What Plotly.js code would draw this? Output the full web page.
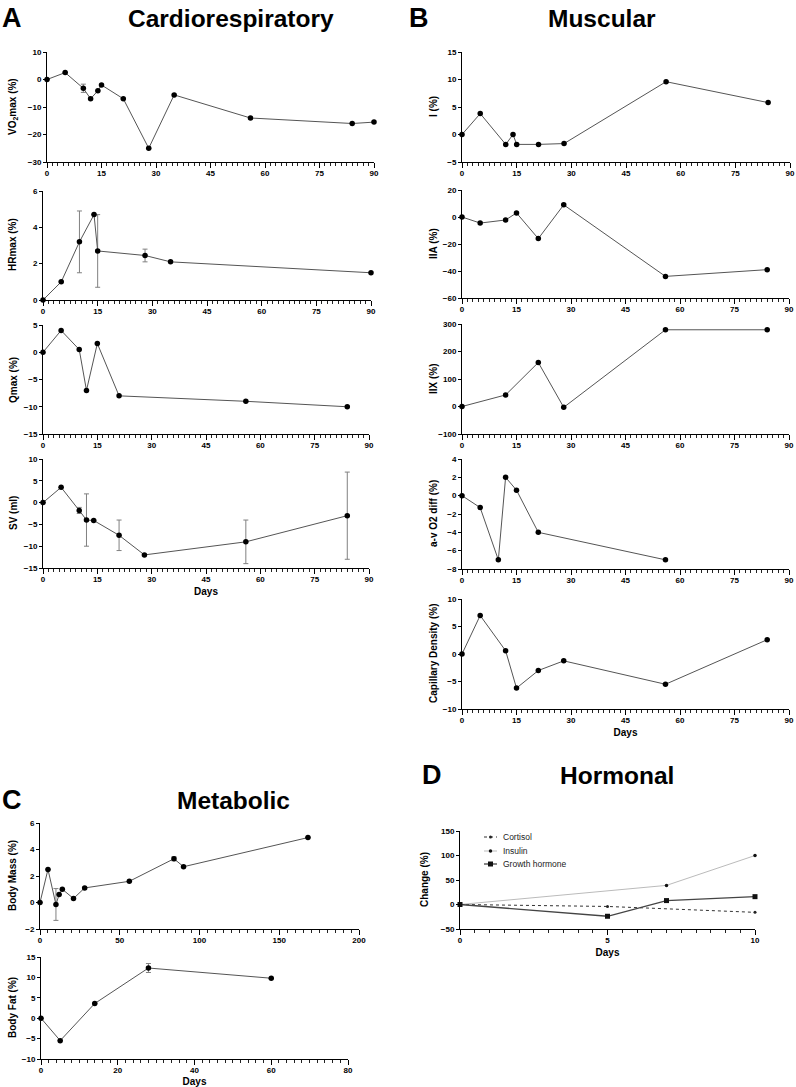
<!DOCTYPE html>
<html><head><meta charset="utf-8">
<script src="https://cdn.plot.ly/plotly-3.0.1.min.js"></script>
<style>html,body{margin:0;padding:0;background:#fff}#chart{width:796px;height:1087px}</style>
</head><body><div id="chart"></div>
<script>
// ---- data ----
const vo2Days = [0, 5, 10, 12, 14, 15, 21, 28, 35, 56, 84, 90];
const vo2Vals = [0, 2.5, -3.2, -7, -4.1, -2, -7, -25, -5.6, -14, -16, -15.5];
const vo2Err  = [null, null, 1.5, null, null, null, null, null, null, null, null, null];

const hrDays = [0, 5, 10, 14, 15, 28, 35, 90];
const hrVals = [0, 1.0, 3.2, 4.7, 2.7, 2.45, 2.1, 1.5];
const hrErr  = [null, null, 1.7, null, 2.0, 0.35, null, null];

const qDays = [0, 5, 10, 12, 15, 21, 56, 84];
const qVals = [0, 4.0, 0.5, -7.0, 1.6, -8.0, -9.0, -10.0];

const svDays = [0, 5, 10, 12, 14, 21, 28, 56, 84];
const svVals = [0, 3.5, -1.8, -4.0, -4.1, -7.5, -12, -9, -3];
const svErr  = [null, null, 0.7, 6, null, 3.5, null, 5, 10];

const iDays = [0, 5, 12, 14, 15, 21, 28, 56, 84];
const iVals = [0, 3.8, -1.8, 0, -1.8, -1.8, -1.65, 9.6, 5.8];

const iiaDays = [0, 5, 12, 15, 21, 28, 56, 84];
const iiaVals = [0, -4.5, -2.2, 3, -16, 9, -44, -39];

const iixDays = [0, 12, 21, 28, 56, 84];
const iixVals = [0, 42, 160, -3, 279, 279];

const avDays = [0, 5, 10, 12, 15, 21, 56];
const avVals = [0, -1.3, -7, 2.0, 0.6, -4.0, -7];

const capDays = [0, 5, 12, 15, 21, 28, 56, 84];
const capVals = [0, 7, 0.6, -6.2, -3.0, -1.25, -5.5, 2.6];

const bmDays = [0, 5, 10, 12, 14, 21, 28, 56, 84, 90, 168];
const bmVals = [0, 2.5, -0.15, 0.6, 1.0, 0.3, 1.1, 1.6, 3.3, 2.7, 4.9];
const bmErr  = [null, null, 1.2, null, null, null, null, null, 0.15, null, null];

const bfDays = [0, 5, 14, 28, 60];
const bfVals = [0, -5.5, 3.6, 12.3, 9.8];
const bfErr  = [null, null, null, 1.1, null];

const hormoneNames = ['Cortisol', 'Insulin', 'Growth hormone'];
const cortDays = [0, 5, 10];
const cortVals = [0, -4, -16];
const insDays = [0, 7, 10];
const insVals = [0, 39, 100];
const ghDays = [0, 5, 7, 10];
const ghVals = [0, -24, 8, 16];

// ---- layout helpers ----
const W = 796, H = 1087;
const X = p => p / W;
const Y = p => 1 - p / H;
const FONT = "Liberation Sans, Arial, sans-serif";

const traces = [];
function series(n, xs, ys, err) {
  const t = {
    type: 'scatter', mode: 'lines+markers', x: xs, y: ys,
    xaxis: n === 1 ? 'x' : 'x' + n, yaxis: n === 1 ? 'y' : 'y' + n,
    line: {color: '#555', width: 1},
    marker: {color: '#000', size: 5.5},
    cliponaxis: false, showlegend: false, hoverinfo: 'x+y'
  };
  if (err) t.error_y = {type: 'data', array: err, visible: true, color: '#808080', thickness: 1, width: 2.5};
  traces.push(t);
}
series(1, vo2Days, vo2Vals, vo2Err);
series(2, hrDays, hrVals, hrErr);
series(3, qDays, qVals);
series(4, svDays, svVals, svErr);
series(5, iDays, iVals);
series(6, iiaDays, iiaVals);
series(7, iixDays, iixVals);
series(8, avDays, avVals);
series(9, capDays, capVals);
series(10, bmDays, bmVals, bmErr);
series(11, bfDays, bfVals, bfErr);

const hStyles = [
  {line: {color: '#333', width: 1, dash: 'dot'}, marker: {color: '#222', size: 3, symbol: 'circle'}},
  {line: {color: '#bbb', width: 1}, marker: {color: '#111', size: 3.5, symbol: 'circle'}},
  {line: {color: '#444', width: 1.3}, marker: {color: '#111', size: 5, symbol: 'square'}}
];
[[cortDays, cortVals], [insDays, insVals], [ghDays, ghVals]].forEach(([xs, ys], i) => {
  traces.push({type: 'scatter', mode: 'lines+markers', name: hormoneNames[i], x: xs, y: ys,
    xaxis: 'x12', yaxis: 'y12', line: hStyles[i].line, marker: hStyles[i].marker,
    cliponaxis: false, showlegend: false});
});

// panel geometry in pixels: [left, right, top, bottom]
const boxes = {
  1: [47, 374, 52, 162], 2: [43, 371, 191, 300], 3: [43, 369, 325, 434], 4: [43, 369, 459, 568],
  5: [462, 790, 52, 162], 6: [462, 789, 190, 298], 7: [462, 789, 324, 434], 8: [462, 789, 459, 569],
  9: [462, 789, 599, 709], 10: [40, 359, 823, 929], 11: [41, 348, 957, 1059], 12: [460, 755, 831, 929]
};
const xr = {1:[0,90],2:[0,90],3:[0,90],4:[0,90],5:[0,90],6:[0,90],7:[0,90],8:[0,90],9:[0,90],10:[0,200],11:[0,80],12:[0,10]};
const xd = {1:15,2:15,3:15,4:15,5:15,6:15,7:15,8:15,9:15,10:50,11:20,12:5};
const xm = {1:1.5,2:1.5,3:1.5,4:1.5,5:1.5,6:1.5,7:1.5,8:1.5,9:1.5,10:5,11:2,12:0.5};
const yr = {1:[-30,10],2:[0,6],3:[-15,5],4:[-15,10],5:[-5,15],6:[-60,20],7:[-100,300],8:[-8,4],9:[-10,10],10:[-2,6],11:[-10,15],12:[-50,150]};
const yd = {1:10,2:2,3:5,4:5,5:5,6:20,7:100,8:2,9:5,10:2,11:5,12:50};

const tickFont = {family: FONT, size: 8, color: '#000', weight: 'bold'};
const layout = {
  width: W, height: H, margin: {l:0, r:0, t:0, b:0},
  paper_bgcolor: '#fff', plot_bgcolor: 'rgba(0,0,0,0)', showlegend: false,
  annotations: [], shapes: []
};
for (let n = 1; n <= 12; n++) {
  const [l, r, t, b] = boxes[n];
  const sx = n === 1 ? 'xaxis' : 'xaxis' + n;
  const sy = n === 1 ? 'yaxis' : 'yaxis' + n;
  const yid = n === 1 ? 'y' : 'y' + n;
  const xid = n === 1 ? 'x' : 'x' + n;
  // every minor position is a tick; only majors get a label
  const steps = Math.round((xr[n][1] - xr[n][0]) / xm[n]);
  const per = Math.round(xd[n] / xm[n]);
  const tv = [], tt = [];
  for (let k = 0; k <= steps; k++) {
    const v = +(xr[n][0] + k * xm[n]).toFixed(4);
    tv.push(v);
    tt.push(k % per === 0 ? String(v) : '');
  }
  layout[sx] = {
    domain: [X(l), X(r)], anchor: yid, range: xr[n], tickmode: 'array', tickvals: tv, ticktext: tt,
    showgrid: false, zeroline: false, showline: true, linecolor: '#000', linewidth: 1,
    ticks: 'outside', ticklen: 3, tickcolor: '#222', tickwidth: 1, tickfont: tickFont,
    fixedrange: true
  };
  // overlay axis carrying the longer major ticks
  const m = n + 12;
  layout['xaxis' + m] = {
    overlaying: xid, anchor: yid, side: 'bottom', range: xr[n], tick0: 0, dtick: xd[n],
    showgrid: false, zeroline: false, showline: false, showticklabels: false,
    ticks: 'outside', ticklen: 5, tickcolor: '#000', tickwidth: 1, fixedrange: true
  };
  layout[sy] = {
    domain: [Y(b), Y(t)], anchor: xid, range: yr[n], tick0: 0, dtick: yd[n],
    showgrid: false, zeroline: false, showline: true, linecolor: '#000', linewidth: 1,
    ticks: 'outside', ticklen: 3, tickcolor: '#000', tickwidth: 1, tickfont: tickFont,
    fixedrange: true
  };
}
for (let n = 1; n <= 12; n++) {
  traces.push({type: 'scatter', mode: 'none', x: [xr[n][0]], y: [yr[n][0]], xaxis: 'x' + (n + 12),
    yaxis: n === 1 ? 'y' : 'y' + n, showlegend: false, hoverinfo: 'skip'});
}
const titleFont = {family: FONT, size: 10, color: '#000', weight: 'bold'};
[4, 9, 11, 12].forEach(n => {
  layout['xaxis' + n].title = {text: 'Days', font: titleFont, standoff: 5};
});

// y titles as annotations
const yTitles = [
  ['VO<sub>2</sub>max (%)', 13, 107], ['HRmax (%)', 13, 245], ['Qmax (%)', 13, 380], ['SV (ml)', 13, 513],
  ['I (%)', 433, 107], ['IIA (%)', 433, 244], ['IIX (%)', 433, 379], ['a-v O2 diff (%)', 433, 514],
  ['Capillary Density (%)', 433, 654], ['Body Mass (%)', 12, 876], ['Body Fat (%)', 12, 1008], ['Change (%)', 424, 880]
];
yTitles.forEach(([txt, px, py]) => layout.annotations.push({
  text: txt, xref: 'paper', yref: 'paper', x: X(px), y: Y(py), xanchor: 'center', yanchor: 'middle',
  textangle: -90, showarrow: false, font: titleFont
}));
// panel titles
const bigFont = {family: FONT, size: 24.5, color: '#000', weight: 'bold'};
const letterFont = {family: FONT, size: 27, color: '#000', weight: 'bold'};
[['A', 12, 18, 1], ['Cardiorespiratory', 231, 18, 0], ['B', 419, 18, 1], ['Muscular', 602, 18, 0],
 ['C', 12, 800, 1], ['Metabolic', 233, 800, 0], ['D', 432, 775, 1], ['Hormonal', 617, 775, 0]].forEach(([txt, px, py, isL]) =>
  layout.annotations.push({text: txt, xref: 'paper', yref: 'paper', x: X(px), y: Y(py),
    xanchor: 'center', yanchor: 'middle', showarrow: false, font: isL ? letterFont : bigFont}));

// hormone legend (drawn manually to match compact spacing)
const legRows = [837, 851, 864];
hormoneNames.forEach((name, i) => {
  const yy = Y(legRows[i]);
  const st = hStyles[i];
  layout.shapes.push({type: 'line', xref: 'paper', yref: 'paper', x0: X(484), x1: X(497), y0: yy, y1: yy,
    line: {color: st.line.color, width: st.line.width, dash: st.line.dash || 'solid'}});
  const r = st.marker.size / 2;
  layout.shapes.push({type: st.marker.symbol === 'square' ? 'rect' : 'circle', xref: 'paper', yref: 'paper',
    x0: X(490.5 - r), x1: X(490.5 + r), y0: Y(legRows[i] + r), y1: Y(legRows[i] - r),
    fillcolor: st.marker.color, line: {width: 0}});
  layout.annotations.push({text: name, xref: 'paper', yref: 'paper', x: X(501), y: yy,
    xanchor: 'left', yanchor: 'middle', showarrow: false, font: {family: FONT, size: 8.5, color: '#222'}});
});

Plotly.newPlot('chart', traces, layout, {staticPlot: true, displayModeBar: false});
</script></body></html>
